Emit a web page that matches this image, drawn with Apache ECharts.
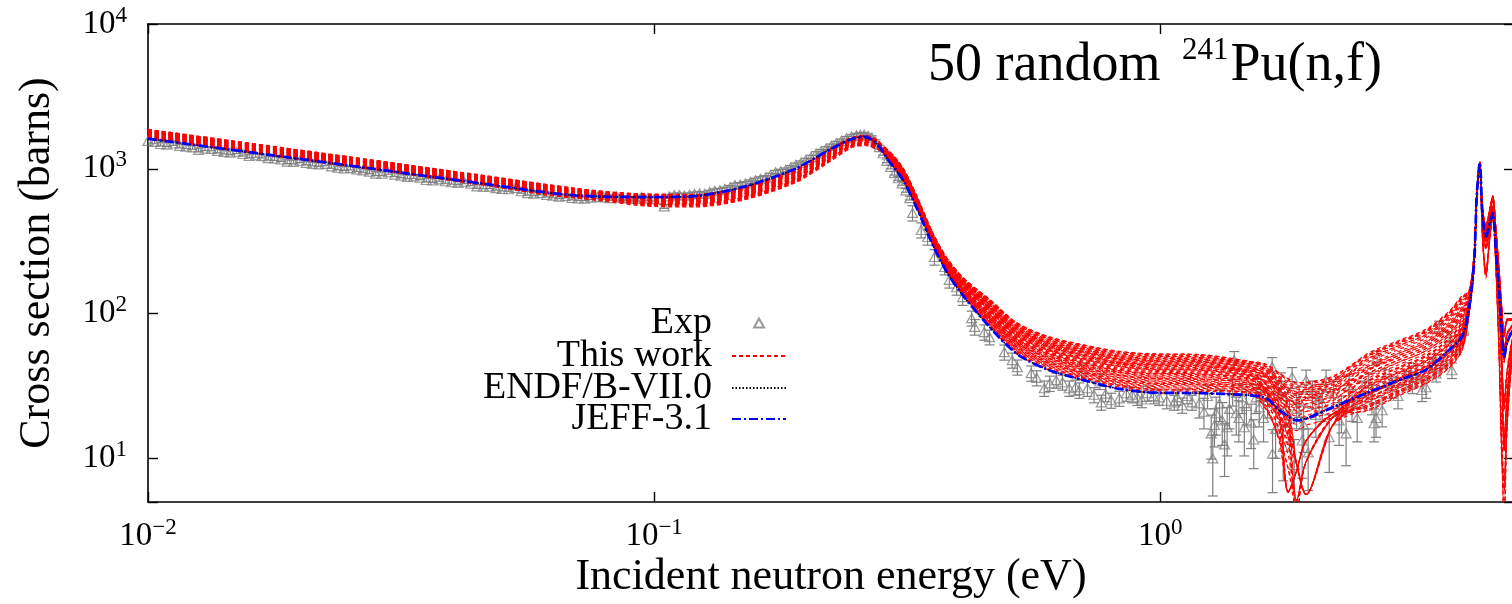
<!DOCTYPE html>
<html><head><meta charset="utf-8">
<script src="https://cdn.jsdelivr.net/npm/echarts/dist/echarts.min.js"></script>
<style>html,body{margin:0;padding:0;background:#fff}#c{width:1512px;height:604px}</style>
</head><body><div id="c"></div>
<script>
// ---------- data ----------
const xTickValues = [0.01, 0.1, 1];
const yTickValues = [10, 100, 1000, 10000];
const xRange = [0.01, 5];
const yRange = [5, 10000];

// energy grid (eV) for the evaluated curves
const energy = [0.01,0.025,0.045,0.07,0.1,0.12,0.15,0.19,0.22,0.245,0.26,0.275,0.29,0.31,0.33,0.355,0.38,0.41,0.46,0.52,0.6,0.7,0.82,0.95,1.2,1.5,1.62,1.72,1.79,1.86,1.94,2.19,2.55,2.96,3.35,3.72,3.95,4.07,4.17,4.22,4.28,4.33,4.40,4.48,4.54,4.60,4.67,4.73,4.78,4.84,4.93,5.0];
// JEFF-3.1 (barns)
const jeff31 = [1615,1052,798,655,638,648,750,1000,1330,1600,1665,1500,1150,840,540,300,190,130,81,53,41,35,30.5,28.6,28.2,27.3,26,21.5,19.5,18.3,18.8,22.5,28.2,34.7,41,56,70,106,223,640,1100,495,338,422,495,288,146,77,50,62,73,80];
// ENDF/B-VII.0 (barns)
const endfb7 = [1615,1052,798,655,638,648,750,1000,1330,1600,1665,1500,1150,840,540,300,190,130,81,53,41,35,30.5,28.6,28.2,27.3,26,21.5,19.6,18.6,18.9,22.5,28.2,34.7,41,56,70,106,223,630,1080,490,335,415,480,285,146,77,50,62,73,80];
// "This work": 50 random curves, value as % of JEFF-3.1 at each grid energy
const thisWorkRatio = [
[101,100,99,97,100,98,95,94,96,100,100,104,100,100,100,100,100,100,100,100,100,100,100,100,100,100,95,90,85,85,90,85,95,98,100,95,100,98,99,100,98,100,100,100,100,100,100,95,95,100,100,100],
[108,107,106,104,95,93,90,89,91,96,96,100,101,101,101,101,101,101,102,102,102,103,103,103,103,103,83,63,43,24,50,85,80,83,85,80,85,92,96,98,96,70,55,80,95,90,80,60,45,60,80,90],
[112,111,110,108,103,101,98,97,99,101,101,105,101,102,102,102,102,102,104,105,105,105,106,106,106,105,105,115,117,117,113,97,110,113,115,110,115,104,102,101,101,106,97,112,127,132,122,112,108,113,108,104],
[104,103,102,100,91,89,86,85,87,92,92,96,102,102,102,102,102,103,105,106,107,107,108,108,108,107,97,82,62,50,30,75,85,88,90,85,90,94,97,99,99,90,85,95,105,110,95,50,25,40,70,85],
[115,114,113,111,98,96,93,92,94,98,98,102,102,103,103,103,103,104,107,108,108,109,110,110,110,109,104,99,94,94,99,94,120,123,125,120,125,108,104,102,99,108,116,122,128,138,142,138,136,142,124,114],
[106,105,104,102,87,85,82,81,83,88,88,92,102,103,103,103,104,105,108,109,110,111,111,112,112,110,85,60,30,45,70,90,75,78,80,75,80,90,95,98,101,105,110,115,110,80,40,15,8,25,55,70],
[110,109,108,106,102,100,97,96,98,100,100,104,103,104,104,104,104,106,109,111,111,112,113,114,114,112,112,122,124,124,120,104,130,133,135,130,135,112,106,102,99,101,103,102,101,100,102,97,97,102,101,101],
[102,101,100,98,93,91,88,87,89,94,94,98,103,104,104,104,105,106,110,112,113,114,115,116,116,114,94,74,54,28,50,85,90,93,95,90,95,96,98,99,100,104,93,108,122,128,118,108,112,117,111,106],
[113,112,111,109,99,97,94,93,95,99,99,103,104,105,105,105,105,107,112,114,115,116,117,118,118,115,110,105,100,100,105,100,100,103,105,100,105,100,100,100,97,72,58,82,96,92,82,64,50,64,82,92],
[107,106,105,103,89,87,84,83,85,90,90,94,104,105,105,105,106,108,113,115,116,118,119,120,120,117,107,92,72,50,30,75,78,81,83,78,83,91,96,98,98,88,82,93,103,108,92,45,22,35,66,82],
[116,115,114,112,104,102,99,98,100,102,102,106,104,106,106,106,107,109,114,117,118,119,121,122,122,119,119,129,131,131,127,111,140,143,145,140,145,116,108,103,101,112,120,127,132,142,138,142,145,148,127,117],
[103,102,101,99,96,94,91,90,92,96,96,100,105,106,106,106,107,110,116,118,120,121,123,124,124,120,95,70,30,45,70,90,88,91,93,88,93,95,98,99,100,104,108,112,107,76,35,12,14,28,58,72],
[111,110,109,107,101,99,96,95,97,100,100,104,105,107,107,107,108,110,117,120,121,123,125,126,126,122,117,112,107,107,112,107,115,118,120,115,120,106,103,101,97,99,98,99,100,101,98,93,94,98,99,100],
[105,104,103,101,88,86,83,82,84,89,89,93,106,107,107,107,108,111,118,121,123,125,127,128,128,124,104,84,64,24,50,85,82,85,87,82,87,93,96,99,99,107,98,113,128,133,124,114,114,118,112,107],
[114,113,112,110,97,95,92,91,93,97,97,101,106,108,108,108,109,112,120,123,125,126,129,130,130,126,126,136,138,138,134,118,150,153,155,150,155,120,110,104,95,68,52,78,93,88,78,58,42,56,78,88],
[100,99,98,96,92,90,87,86,88,93,93,97,106,108,108,108,110,113,121,124,126,128,130,132,132,127,117,102,82,50,30,75,95,98,100,95,100,98,99,100,100,92,87,97,107,112,97,55,28,44,73,87],
[109,108,107,105,103,101,98,97,99,101,101,105,107,109,109,109,110,114,122,126,128,130,132,134,134,129,124,119,114,114,119,114,125,128,130,125,130,110,105,102,100,109,117,123,129,138,136,136,138,143,123,113],
[112,111,110,108,90,88,85,84,86,91,91,95,107,109,109,109,111,114,123,127,130,132,134,136,136,131,106,81,30,45,70,90,80,83,85,80,85,92,96,98,98,97,96,98,99,99,97,92,92,97,98,99],
[104,103,102,100,100,98,95,94,96,99,99,103,108,110,110,110,111,115,125,129,131,133,136,138,138,132,132,142,144,144,140,124,160,163,165,160,165,124,112,105,102,106,111,117,112,82,44,18,15,28,58,72],
[115,114,113,111,94,92,89,88,90,95,95,99,108,110,110,110,112,116,126,130,133,135,138,140,140,134,114,94,74,28,50,85,105,108,110,105,110,102,101,100,100,103,94,109,124,129,119,109,107,112,109,104],
[108,107,106,104,102,100,97,96,98,100,100,104,108,111,111,111,113,117,127,132,134,137,140,142,142,136,131,126,121,121,126,121,135,138,140,135,140,114,107,103,96,71,56,81,96,91,81,62,47,62,81,91],
[101,100,99,97,86,84,81,80,82,87,87,91,109,111,111,111,113,118,129,133,136,139,142,144,144,137,127,112,92,50,30,75,86,89,91,86,91,94,97,99,99,89,84,94,104,109,94,48,24,38,68,84],
[110,109,108,106,98,96,93,92,94,98,98,102,109,112,112,112,114,118,130,135,138,140,144,146,146,139,139,149,151,151,147,131,170,173,175,170,175,128,114,106,101,111,119,126,131,141,139,143,143,147,126,116],
[106,105,104,102,91,89,86,85,87,92,92,96,110,112,112,112,114,119,131,136,139,142,146,148,148,141,116,91,30,45,70,90,92,95,97,92,97,97,98,99,99,102,101,101,102,102,101,97,98,101,101,100],
[113,112,111,109,105,103,100,99,101,102,102,106,110,113,113,113,115,120,133,138,141,144,148,150,150,143,138,133,128,128,133,128,145,148,150,145,150,118,109,104,101,104,109,114,109,78,38,14,7,24,54,69],
[103,102,101,99,95,93,90,89,91,95,95,99,110,113,113,113,116,121,134,139,143,146,149,152,152,144,124,104,84,28,50,85,110,113,115,110,115,104,102,101,101,106,96,111,126,131,121,111,109,114,110,105],
[116,115,114,112,100,98,95,94,96,100,100,104,111,114,114,114,116,122,135,141,144,148,151,154,154,146,146,156,158,158,154,138,175,178,180,175,180,130,115,106,97,73,59,83,97,93,83,63,48,63,83,93],
[107,106,105,103,89,87,84,83,85,90,90,94,111,114,114,114,117,122,136,142,146,149,153,156,156,148,143,138,133,133,138,133,100,103,105,100,105,100,100,100,100,91,86,96,106,111,96,52,26,42,72,86],
[111,110,109,107,103,101,98,97,99,101,101,105,112,115,115,115,117,123,138,144,148,151,155,158,158,149,139,124,104,50,30,75,140,143,145,140,145,116,108,103,99,110,118,124,130,139,141,139,141,146,125,115],
[102,101,100,98,93,91,88,87,89,94,94,98,112,115,115,115,118,124,139,145,149,153,157,160,160,151,151,161,163,163,159,143,165,168,170,165,170,126,113,105,100,103,104,103,103,102,103,98,99,103,102,101],
[114,113,112,110,99,97,94,93,95,99,99,103,112,116,116,116,119,125,140,147,151,155,159,162,162,153,148,143,138,138,143,138,120,123,125,120,125,108,104,102,100,103,107,113,108,79,42,16,13,26,56,71],
[105,104,103,101,87,85,82,81,83,88,88,92,113,116,116,116,119,126,142,148,152,156,161,164,164,154,129,104,30,45,70,90,98,101,103,98,103,99,100,100,99,104,95,110,124,130,120,110,111,116,111,106],
[109,108,107,105,102,100,97,96,98,101,101,105,113,117,117,117,120,126,143,150,154,158,163,166,166,156,156,166,168,168,164,148,180,183,185,180,185,132,116,106,96,69,54,79,94,89,79,59,44,58,79,89],
[112,111,110,108,96,94,91,90,92,96,96,100,114,117,117,117,120,127,144,151,156,160,165,168,168,158,153,148,143,143,148,143,130,133,135,130,135,112,106,102,98,89,83,94,104,109,93,47,23,37,67,83],
[100,99,98,96,91,89,86,85,87,92,92,96,114,118,118,118,121,128,146,153,157,162,167,170,170,160,140,120,100,28,50,85,108,111,113,108,113,103,102,101,100,109,117,124,129,139,139,141,139,144,124,114],
[115,114,113,111,104,102,99,98,100,102,102,106,114,118,118,118,122,129,147,154,159,163,168,172,172,161,161,171,173,173,169,153,185,188,190,185,190,134,117,107,99,100,99,100,101,100,99,96,96,99,100,101],
[106,105,104,102,94,92,89,88,90,95,95,99,115,119,119,119,122,130,148,156,161,165,170,174,174,163,158,153,148,148,153,148,150,153,155,150,155,120,110,104,102,107,112,116,111,81,41,16,12,27,57,71],
[110,109,108,106,100,98,95,94,96,100,100,104,115,119,119,119,123,130,149,157,162,167,172,176,176,165,155,140,120,50,30,75,118,121,123,118,123,107,104,101,100,105,96,111,125,131,121,111,110,115,110,105],
[103,102,101,99,89,87,84,83,85,90,90,94,116,120,120,120,123,131,151,159,164,169,174,178,178,166,166,176,178,178,174,158,170,173,175,170,175,128,114,106,95,70,55,80,95,90,80,61,46,61,80,90],
[113,112,111,109,97,95,92,91,93,97,97,101,116,120,120,120,124,132,152,160,166,170,176,180,180,168,163,158,153,153,158,153,155,158,160,155,160,122,111,104,101,110,119,125,131,140,140,140,140,146,126,116],
[108,107,106,104,102,100,97,96,98,101,101,105,116,121,121,121,125,133,153,162,167,172,178,182,182,170,170,180,182,182,178,162,178,181,183,178,183,131,116,106,98,99,100,100,100,101,100,96,96,100,100,100],
[104,103,102,100,92,90,87,86,88,93,93,97,117,121,121,121,125,134,155,163,169,174,180,184,184,171,166,161,156,156,161,156,145,148,150,145,150,118,109,104,99,91,86,96,106,111,96,51,26,42,72,86],
[111,110,109,107,98,96,93,92,94,98,98,102,117,121,121,121,126,134,155,164,170,175,181,185,185,172,172,180,182,182,178,164,182,185,187,182,187,133,116,107,100,111,120,126,130,140,141,141,142,147,127,117],
[109,108,107,105,93,91,88,87,89,94,94,98,101,101,101,101,102,102,103,104,104,104,105,105,105,104,84,64,44,28,50,85,76,79,81,76,81,90,95,98,101,104,109,114,110,80,39,14,8,25,55,70],
[101,100,99,97,99,97,94,93,95,99,99,103,103,104,104,104,105,106,110,111,112,113,114,115,115,113,88,63,30,45,70,90,82,85,87,82,87,93,96,99,97,71,57,81,96,91,81,62,46,62,81,91],
[114,113,112,110,90,88,85,84,86,91,91,95,105,106,106,106,108,110,116,119,121,122,124,125,125,121,111,96,76,50,30,75,90,93,95,90,95,96,98,99,100,104,94,109,123,128,118,109,109,114,110,105],
[107,106,105,103,103,101,98,97,99,101,101,105,107,109,109,109,111,114,123,126,129,131,133,135,135,130,110,90,70,28,50,85,102,105,107,102,107,101,100,100,100,90,85,95,105,110,95,49,24,39,69,85],
[112,111,110,108,95,93,90,89,91,95,95,99,109,111,111,111,114,118,129,134,137,140,143,145,145,138,113,88,30,45,70,90,96,99,101,96,101,98,99,100,97,98,97,99,100,99,98,94,93,98,99,99],
[105,104,103,101,101,99,96,95,97,100,100,104,111,114,114,114,117,122,136,141,145,148,152,155,155,147,142,137,132,132,137,132,135,138,140,135,140,114,107,103,101,105,110,115,111,80,40,15,12,26,56,70],
[110,109,108,106,88,86,83,82,84,89,89,93,113,116,116,116,120,126,142,149,153,157,162,165,165,155,145,130,110,50,30,75,112,115,117,112,117,105,102,101,99,108,117,124,129,139,141,140,139,145,124,114]
];
// Experimental points: energy (eV), cross section (b), uncertainty (b)
const expE = [0.01,0.01059,0.01122,0.01189,0.01259,0.01334,0.01413,0.01496,0.01585,0.01679,0.01778,0.01884,0.01995,0.02113,0.02239,0.02371,0.02512,0.02661,0.02818,0.02985,0.03162,0.0335,0.03548,0.03758,0.03981,0.04217,0.04467,0.04732,0.05012,0.05309,0.05623,0.05957,0.0631,0.06683,0.07079,0.07499,0.07943,0.08414,0.08913,0.09441,0.1,
0.1047,0.1096,0.1148,0.1202,0.1259,0.1318,0.138,0.1445,0.1514,0.1585,0.166,0.1738,0.182,0.1905,0.1995,0.2089,0.2188,0.2291,0.2399,0.2512,0.26,0.2692,0.2786,0.2884,0.2985,0.309,0.3199,
0.324,0.337,0.347,0.358,0.375,0.383,0.396,0.407,0.424,0.43,0.449,0.46,0.492,0.51,0.522,0.556,0.57,0.59,0.605,0.623,0.641,0.661,0.68,0.692,0.7,0.718,0.74,0.76,0.765,0.78,0.8,0.83,0.857,0.88,0.901,0.92,0.943,0.97,0.995,1.03,1.066,1.08,1.105,1.13,1.156,
1.194,1.22,1.24,1.261,1.27,1.28,1.29,1.31,1.326,1.34,1.356,1.37,1.39,1.4,1.413,1.43,1.452,1.466,1.48,1.512,1.53,1.547,1.569,1.58,1.6,1.63,1.664,1.667,1.69,1.71,1.733,1.75,1.773,1.8,1.822,1.84,1.86,1.881,1.907,1.92,1.942,1.96,2.0,2.03,2.06,2.09,2.127,2.157,2.2,2.256,2.28,2.329,2.36,2.393,2.45,2.505,2.58,2.62,2.645,2.669,2.682,2.744,2.78,2.871,2.95,3.06,3.1,3.15,3.202,3.29,3.351,3.45,3.508,3.556,3.62,3.72,3.77,3.85,3.89,3.98,
0.0103,0.0109,0.01155,0.01224,0.01296,0.01373,0.01454,0.0154,0.01632,0.01728,0.01831,0.01939,0.02054,0.02175,0.02304,0.02441,0.02585,0.02738,0.02901,0.03073,0.03255,0.03448,0.03652,0.03868,0.04097,0.0434,0.04597,0.0487,0.05158,0.05464,0.05788,0.06131,0.06494,0.06879,0.07286,0.07718,0.08175,0.0866,0.09173,0.09716,
0.1071,0.1122,0.1175,0.123,0.1288,0.1349,0.1413,0.1479,0.1549,0.1622,0.1698,0.1778,0.1862,0.195,0.2042,0.2138,0.2239,0.2344,0.2455,0.2556,0.2646,0.2739,0.2835,0.2934,0.3037,0.3144];
const expY = [1560,1483,1496,1422,1352,1373,1306,1312,1225,1224,1178,1120,1137,1081,1082,1017,1013,975,927,946,895,886,837,845,808,814,757,754,725,739,679,681,651,649,624,632,635,647,624,638,617,
550,658,653,671,671,705,724,773,791,836,871,946,984,1064,1148,1274,1380,1503,1622,1706,1722,1641,1413,1135,933,794,628,
496,378,338,246,210,171,152,130,93,81,74.5,68.8,54.2,47.7,42.7,38.8,36,30.5,33,34.7,33.6,30.5,31,29.6,40,30.5,27.5,34,24.4,28,25.2,26,28.2,27.5,26.4,25.5,28.2,27,26.4,25,24.4,26.5,23.3,27,24.4,
24,21,27,14.9,10,17,20.5,24,18.3,12.5,16.4,22,29,47.7,20.5,19,26.4,16.4,23,17.7,13.5,26.4,22.5,31,19,25,42.7,10.8,16,28,33,12,22.5,19,36.4,9,22,25.2,13.3,17,34.7,11,28.2,20,26.4,24,34.7,14,28,18.3,21,14.9,31,24,19,28.2,33,26,17.5,19,50,21.5,36,31,27,34.7,40.6,33,38.7,29.7,31,45,38.7,80.7,47,68.8,40.6,58,65,78,
1535,1470,1440,1405,1380,1330,1290,1265,1240,1185,1160,1115,1100,1070,1040,1005,990,955,925,912,880,868,830,820,800,790,752,735,722,700,672,660,642,630,622,640,628,630,620,625,
645,660,662,676,690,712,745,780,812,855,905,962,1020,1100,1205,1320,1440,1560,1670,1720,1690,1540,1280,1030,860,710];
const expErr = [47,44,45,43,41,41,39,39,37,37,35,34,34,32,32,31,30,29,28,28,27,27,25,25,24,24,23,23,22,22,20,20,20,19,19,19,19,19,19,19,19,
17,20,20,20,20,21,22,23,24,25,26,28,30,32,34,38,41,45,49,51,52,49,42,34,28,24,19,
60,45,41,30,25,21,18,16,11,10,9,8,6.5,5.7,5.1,4.7,4.3,3.7,4,4.2,4,3.7,3.7,3.6,4.8,3.7,3.3,4.1,2.9,3.4,3,3.1,3.4,3.3,3.2,3.1,3.4,3.2,3.2,3,2.9,3.2,2.8,3.2,2.9,
5,5,5,5,4.5,5,6,6,6,5,6,6,6,7,6,6,6,6,6,6,5,6,6,6,6,6,7,5,6,6,6,5,6,6,6,4.5,6,6,6,6,6,5,6,6,6,6,6,6,6,6,6,6,6,6,6,6,6,6,4.5,5,5,5,5,5,5,5,5,5,5,5,5,5,5,8,5,6,5,6,6,7,
46,44,43,42,41,40,39,38,37,36,35,33,33,32,31,30,30,29,28,27,26,26,25,25,24,24,23,22,22,21,20,20,19,19,19,19,19,19,19,19,
19,20,20,20,21,21,22,23,24,26,27,29,31,33,36,40,43,47,50,52,51,46,38,31,26,21];

// ---------- chart ----------
const FONT = "'Liberation Serif','Times New Roman',serif";
const GRAY = '#7f7f7f';
function isTick(v, list){ return list.some(t => Math.abs(Math.log10(v) - Math.log10(t)) < 1e-6); }
function powLabel(list){
  return function(v){
    if (!isTick(v, list)) return '';
    const e = Math.round(Math.log10(v));
    return '{b|10}{s|' + (e < 0 ? '\u2212' + (-e) : String(e)) + '}';
  };
}
const labelRich = {
  b:{fontFamily:FONT,fontSize:33,color:'#000',lineHeight:40,verticalAlign:'middle'},
  s:{fontFamily:FONT,fontSize:23,color:'#000',lineHeight:26,verticalAlign:'top'}
};
const axisCommon = {
  type:'log', logBase:10,
  axisLine:{show:true,onZero:false,lineStyle:{color:'#000',width:1.6}},
  axisTick:{show:true,inside:true,length:10,lineStyle:{color:'#000',width:1.4}},
  minorTick:{show:false}, splitLine:{show:false}, minorSplitLine:{show:false}
};
const series = [];
series.push({
  type:'custom', name:'ExpErr', silent:true, clip:true, z:1,
  data: expE.map((e,i)=>[e, expY[i], expErr[i]]),
  encode:{x:0,y:1},
  renderItem:function(params, api){
    const x = api.value(0), y = api.value(1), er = api.value(2);
    const hi = api.coord([x, y + er]), lo = api.coord([x, Math.max(y - er, 0.5)]);
    const hw = 5, st = {stroke:GRAY, lineWidth:1.2};
    return {type:'group', children:[
      {type:'line', shape:{x1:hi[0],y1:hi[1],x2:lo[0],y2:lo[1]}, style:st},
      {type:'line', shape:{x1:hi[0]-hw,y1:hi[1],x2:hi[0]+hw,y2:hi[1]}, style:st},
      {type:'line', shape:{x1:lo[0]-hw,y1:lo[1],x2:lo[0]+hw,y2:lo[1]}, style:st}
    ]};
  }
});
series.push({
  type:'scatter', name:'Exp', symbol:'triangle', symbolSize:[10,9], silent:true, z:2,
  data: expE.map((e,i)=>[e, expY[i]]),
  itemStyle:{color:'rgba(0,0,0,0)', borderColor:GRAY, borderWidth:1.2}
});
thisWorkRatio.forEach(row => {
  series.push({
    type:'line', name:'This work', symbol:'none', showSymbol:false, smooth:0.3, silent:true, z:3,
    data: energy.map((e,i)=>[e, jeff31[i]*row[i]/100]),
    itemStyle:{color:'#ff0000'},
    lineStyle:{color:'#ff0000', width:1.1, type:[4,3]}
  });
});
series.push({
  type:'line', name:'ENDF/B-VII.0', symbol:'none', showSymbol:false, smooth:0.3, silent:true, z:4,
  data: energy.map((e,i)=>[e, endfb7[i]]),
  itemStyle:{color:'#000000'},
  lineStyle:{color:'#000000', width:1.6, type:[1.5,2]}
});
series.push({
  type:'line', name:'JEFF-3.1', symbol:'none', showSymbol:false, smooth:0.3, silent:true, z:5,
  data: energy.map((e,i)=>[e, jeff31[i]]),
  itemStyle:{color:'#0000ff'},
  lineStyle:{color:'#0000ff', width:2.8, type:[9,3,2,3]}
});

function leg(name, iconCenter, extra){
  return Object.assign({
    data:[name], right:725, top:iconCenter-24, orient:'horizontal', align:'right', padding:0,
    itemWidth:54, itemHeight:12, selectedMode:false,
    itemStyle:{opacity:0},
    textStyle:{fontFamily:FONT, fontSize:38, color:'#000', padding:[0,15,10,0]}
  }, extra||{});
}

const option = {
  animation:false,
  backgroundColor:'#ffffff',
  title:{
    text:'{a|50 random }{s|241}{a|Pu(n,f)}', left:928, top:35, padding:0,
    textStyle:{fontWeight:'normal', rich:{
      a:{fontFamily:FONT,fontSize:54,fontWeight:'normal',color:'#000',lineHeight:62,verticalAlign:'middle'},
      s:{fontFamily:FONT,fontSize:31,fontWeight:'normal',color:'#000',lineHeight:31,verticalAlign:'top',padding:[0,2,0,8]}
    }}
  },
  legend:[
    leg('Exp',328,{right:747, itemWidth:10, itemHeight:9, itemStyle:{},
      textStyle:{fontFamily:FONT, fontSize:38, color:'#000', padding:[0,37,10,0]}}),
    leg('This work',361),
    leg('ENDF/B-VII.0',393),
    leg('JEFF-3.1',424)
  ],
  grid:{left:148,right:-2,top:24,bottom:102,containLabel:false,outerBoundsMode:'none'},
  xAxis:[
    Object.assign({}, axisCommon, {min:xRange[0], max:xRange[1], position:'bottom',
      axisLabel:{formatter:powLabel(xTickValues), margin:14, rich:labelRich},
      name:'Incident neutron energy (eV)', nameLocation:'middle', nameGap:53, nameMoveOverlap:false,
      nameTextStyle:{fontFamily:FONT,fontSize:44,color:'#000'}}),
    Object.assign({}, axisCommon, {min:xRange[0], max:xRange[1], position:'top', axisLabel:{show:false}})
  ],
  yAxis:[
    Object.assign({}, axisCommon, {min:yRange[0], max:yRange[1], position:'left',
      axisLabel:{formatter:powLabel(yTickValues), margin:21, rich:labelRich},
      name:'Cross section (barns)', nameLocation:'middle', nameGap:89, nameMoveOverlap:false,
      nameTextStyle:{fontFamily:FONT,fontSize:44,color:'#000'}}),
    Object.assign({}, axisCommon, {min:yRange[0], max:yRange[1], position:'right', axisLabel:{show:false}})
  ],
  series: series
};
const chart = echarts.init(document.getElementById('c'), null, {renderer:'canvas'});
chart.setOption(option);
</script>
</body></html>
